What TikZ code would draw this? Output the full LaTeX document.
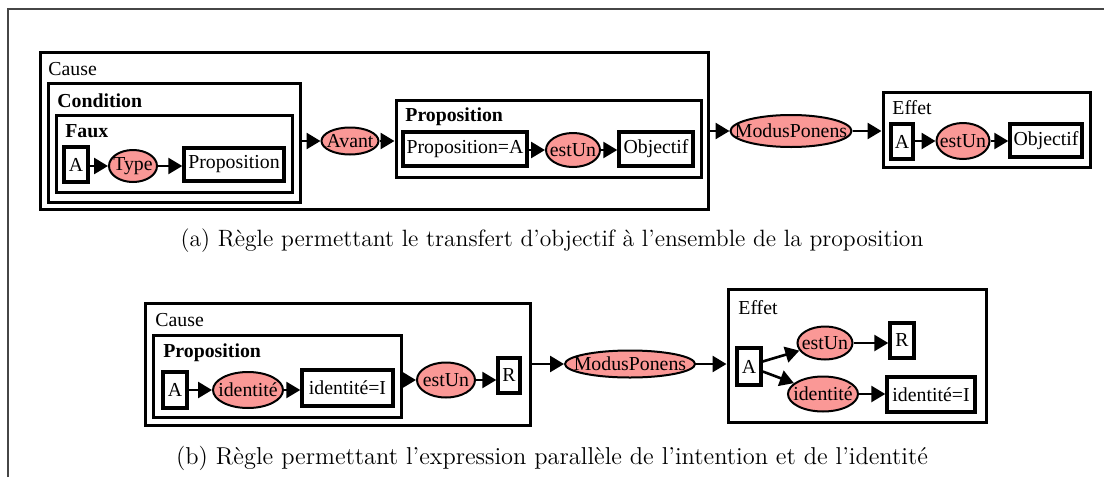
\documentclass[tikz,border=0pt]{standalone}
\usepackage{fontspec}
\newfontfamily\tnr{Liberation Serif}
\usetikzlibrary{fit,shapes.geometric,arrows.meta}
\definecolor{salmon}{RGB}{250,152,150}
\definecolor{framegray}{RGB}{70,70,70}
\tikzset{
  dfont/.style={font=\tnr\fontsize{9.9}{11}\selectfont},
  container/.style={draw, line width=1.5pt, inner sep=0pt},
  box/.style={draw, line width=1.7pt, inner sep=0pt, fill=white, dfont},
  ell/.style={ellipse, draw, line width=1pt, fill=salmon, inner sep=0pt, dfont},
  lab/.style={anchor=west, inner sep=0pt, dfont},
  blab/.style={anchor=west, inner sep=0pt, font=\tnr\bfseries\fontsize{9.9}{11}\selectfont},
  arr/.style={line width=1.3pt, -{Triangle[length=7pt,width=8pt]}},
  captxt/.style={inner sep=0pt}
}
\newcommand{\zb}[1]{\makebox[0pt]{#1}}
\begin{document}
\begin{tikzpicture}[x=0.5pt,y=-0.5pt]
\useasboundingbox (0,0) rectangle (1104,477);
% frame
\coordinate (ftl) at (8,9);
\coordinate (ftr) at (1104,9);
\coordinate (fbl) at (8,477);
\draw[framegray, line width=0.6pt] (fbl) -- (ftl) -- (ftr);

% ---------- (a) ----------
\node[container, fit={(40,52) (708,209)}] (causeA) {};
\node[lab] (causeAl) at (48,69) {Cause};
\node[container, fit={(48,83) (300,202)}] (cond) {};
\node[blab] (condl) at (57,101) {Condition};
\node[container, fit={(56,115) (292,192)}] (faux) {};
\node[blab] (fauxl) at (65,131) {Faux};
\node[box, fit={(64,147) (88,182)}] (a1) {};
\node[dfont] at (a1) {A};
\node[ell, minimum width=24pt, minimum height=16pt] (type) at (133,166) {\zb{Type}};
\node[box, fit={(184,148) (284,181)}] (prop1) {};
\node[dfont] at (prop1) {Proposition};
\draw[arr] (a1.east |- type) -- (type);
\draw[arr] (type) -- (prop1.west |- type);

\node[ell, minimum width=28.5pt, minimum height=13.5pt] (avant) at (350,141) {\zb{Avant}};
\node[container, fit={(396,100) (701,177)}] (propA) {};
\node[blab] (propAl) at (405,117) {Proposition};
\node[box, fit={(403,132) (527,166)}] (propeq) {};
\node[dfont] at (propeq) {Proposition=A};
\node[ell, minimum width=27pt, minimum height=17pt] (estun1) at (573,150) {\zb{estUn}};
\node[box, fit={(619,132) (693,166)}] (obj1) {};
\node[dfont] at (obj1) {Objectif};
\draw[arr] (cond.east |- avant) -- (avant);
\draw[arr] (avant) -- (propA.west |- avant);
\draw[arr] (propeq.east |- estun1) -- (estun1);
\draw[arr] (estun1) -- (obj1.west |- estun1);

\node[ell, minimum width=60.5pt, minimum height=16pt] (mp1) at (791,131) {\zb{ModusPonens}};
\node[container, fit={(883,92) (1090,167)}] (effetA) {};
\node[lab] (effetAl) at (892,108) {Effet};
\node[box, fit={(891,124) (913,159)}] (a2) {};
\node[dfont] at (a2) {A};
\node[ell, minimum width=26.5pt, minimum height=18pt] (estun2) at (963,141) {\zb{estUn}};
\node[box, fit={(1010,124) (1082,157)}] (obj2) {};
\node[dfont] at (obj2) {Objectif};
\draw[arr] (causeA.east |- mp1) -- (mp1);
\draw[arr] (mp1) -- (effetA.west |- mp1);
\draw[arr] (a2.east |- estun2) -- (estun2);
\draw[arr] (estun2) -- (obj2.west |- estun2);

\node[captxt, font=\fontsize{11.8}{14}\selectfont] (capa) at (552,241) {(a) Règle permettant le transfert d’objectif à l’ensemble de la proposition};

% ---------- (b) ----------
\node[container, fit={(145,303) (530,425)}] (causeB) {};
\node[lab] (causeBl) at (155,320) {Cause};
\node[container, fit={(153,335) (401,417)}] (propB) {};
\node[blab] (propBl) at (163,353) {Proposition};
\node[box, fit={(163,372) (187,408)}] (a3) {};
\node[dfont] at (a3) {A};
\node[ell, minimum width=35pt, minimum height=18pt] (id1) at (248,390) {\zb{identité}};
\node[box, fit={(302,370) (393,406)}] (ideq1) {};
\node[dfont] at (ideq1) {identité=I};
\draw[arr] (a3.east |- id1) -- (id1);
\draw[arr] (id1) -- (ideq1.west |- id1);
\node[ell, minimum width=29pt, minimum height=17.5pt] (estun3) at (446,380) {\zb{estUn}};
\node[box, fit={(498,358) (520,393)}] (r1) {};
\node[dfont] at (r1) {R};
\draw[arr] (propB.east |- estun3) -- (estun3);
\draw[arr] (estun3) -- (r1.west |- estun3);

\node[ell, minimum width=65pt, minimum height=13.5pt] (mp2) at (630,364) {\zb{ModusPonens}};
\node[container, fit={(728,289) (986,422)}] (effetB) {};
\node[lab] (effetBl) at (738,308) {Effet};
\node[box, fit={(737,348) (761,385)}] (a4) {};
\node[dfont] at (a4) {A};
\node[ell, minimum width=27.5pt, minimum height=16.5pt] (estun4) at (825,343) {\zb{estUn}};
\node[box, fit={(890,323) (914,358)}] (r2) {};
\node[dfont] at (r2) {R};
\node[ell, minimum width=35pt, minimum height=17.5pt] (id2) at (823,394) {\zb{identité}};
\node[box, fit={(887,377) (975,412)}] (ideq2) {};
\node[dfont] at (ideq2) {identité=I};
\draw[arr] (causeB.east |- mp2) -- (mp2);
\draw[arr] (mp2) -- (effetB.west |- mp2);
\draw[arr] ([yshift=2.5pt]a4.east) -- (estun4);
\draw[arr] ([yshift=-2.5pt]a4.east) -- (id2);
\draw[arr] (estun4) -- (r2.west |- estun4);
\draw[arr] (id2) -- (ideq2.west |- id2);

\node[captxt, font=\fontsize{12.2}{14}\selectfont] (capb) at (552,458) {(b) Règle permettant l’expression parallèle de l’intention et de l’identité};
\end{tikzpicture}
\end{document}
